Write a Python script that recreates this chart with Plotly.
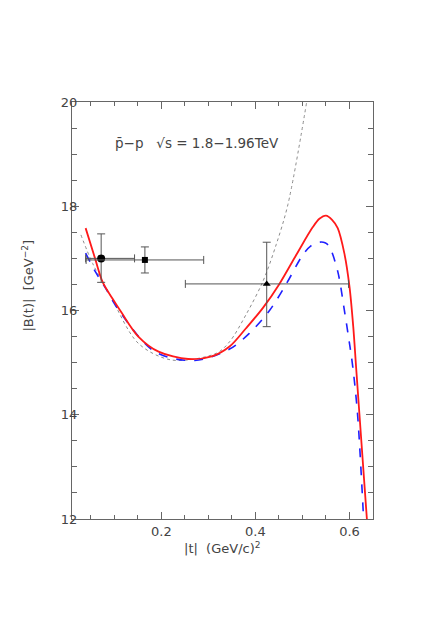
import plotly.graph_objects as go

# |t| in (GeV/c)^2, B in GeV^-2
red_t = [0.039, 0.059, 0.075, 0.096, 0.116, 0.151, 0.194, 0.257, 0.307, 0.345,
         0.380, 0.416, 0.451, 0.487, 0.522, 0.536, 0.550, 0.563, 0.575, 0.589,
         0.600, 0.608, 0.614, 0.621, 0.637]
red_b = [17.58, 17.00, 16.55, 16.23, 15.95, 15.50, 15.21, 15.07, 15.12, 15.31,
         15.66, 16.05, 16.51, 17.07, 17.60, 17.76, 17.82, 17.74, 17.58, 17.10,
         16.46, 15.69, 14.92, 14.03, 12.0]

blue_t = [0.039, 0.060, 0.082, 0.107, 0.186, 0.271, 0.345, 0.387, 0.430, 0.465,
          0.501, 0.518, 0.536, 0.548, 0.557, 0.575, 0.589, 0.600, 0.607, 0.617,
          0.630]
blue_b = [17.10, 16.74, 16.42, 16.04, 15.21, 15.04, 15.26, 15.56, 16.00, 16.50,
          17.07, 17.24, 17.31, 17.30, 17.23, 16.75, 16.01, 15.37, 14.92, 14.03,
          12.0]

dot_t = [0.029, 0.054, 0.089, 0.151, 0.222, 0.317, 0.345, 0.380, 0.416, 0.444,
         0.469, 0.509]
dot_b = [17.45, 16.90, 16.33, 15.37, 15.05, 15.18, 15.40, 15.92, 16.56, 17.26,
         18.03, 20.0]

# data points: circle, square, triangle
pt_t = [0.072, 0.165, 0.424]
pt_b = [17.00, 16.97, 16.51]
pt_t_plus = [0.071, 0.125, 0.174]
pt_t_minus = [0.033, 0.125, 0.173]
pt_b_plus = [0.47, 0.25, 0.80]
pt_b_minus = [0.46, 0.25, 0.82]
pt_symbols = ["circle", "square", "triangle-up"]
pt_sizes = [8, 6, 7]

axis_col = "#666666"
text_col = "#444444"
font = dict(family="DejaVu Sans", size=13, color=text_col)

fig = go.Figure()

fig.add_trace(go.Scatter(x=dot_t, y=dot_b, mode="lines",
                         line=dict(color="#8c8c8c", width=1, dash="dot",
                                   shape="spline", smoothing=0.9)))
fig.add_trace(go.Scatter(x=blue_t, y=blue_b, mode="lines",
                         line=dict(color="#1f1fff", width=1.6, dash="dash",
                                   shape="spline", smoothing=0.9)))
fig.add_trace(go.Scatter(x=red_t, y=red_b, mode="lines",
                         line=dict(color="#ff1a1a", width=1.8,
                                   shape="spline", smoothing=0.9)))

for i in range(len(pt_t)):
    fig.add_trace(go.Scatter(
        x=[pt_t[i]], y=[pt_b[i]], mode="markers",
        marker=dict(symbol=pt_symbols[i], size=pt_sizes[i], color="black"),
        error_x=dict(type="data", symmetric=False, array=[pt_t_plus[i]],
                     arrayminus=[pt_t_minus[i]], color="#555555", thickness=1, width=4),
        error_y=dict(type="data", symmetric=False, array=[pt_b_plus[i]],
                     arrayminus=[pt_b_minus[i]], color="#555555", thickness=1, width=4),
    ))

axis_common = dict(showline=True, linecolor=axis_col, linewidth=1, mirror="ticks",
                   ticks="inside", ticklen=7, tickcolor=axis_col, showgrid=False,
                   zeroline=False, tickfont=font)

fig.update_xaxes(range=[0.01, 0.65], tick0=0, dtick=0.2, tickformat=".1f",
                 minor=dict(dtick=0.05, tick0=0, ticks="inside", ticklen=4,
                            tickcolor=axis_col, showgrid=False),
                 **axis_common)
fig.update_yaxes(range=[12, 20], tick0=12, dtick=2, ticklabelstandoff=-9,
                 minor=dict(dtick=0.5, tick0=12, ticks="inside", ticklen=5,
                            tickcolor=axis_col, showgrid=False),
                 **axis_common)

fig.add_annotation(x=0.097, y=19.22, xref="x", yref="y", xanchor="left",
                   text="p\u0304\u2212p   \u221as = 1.8\u22121.96TeV",
                   showarrow=False, font=dict(family="DejaVu Sans", size=13.5, color=text_col))
fig.add_annotation(x=0.5, y=-0.07, xref="paper", yref="paper", yanchor="middle",
                   text="|t|  (GeV/c)<sup>2</sup>", showarrow=False, font=font)
fig.add_annotation(x=-0.146, y=0.56, xref="paper", yref="paper", xanchor="center",
                   textangle=-90, text="|B(t)|  [GeV<sup>\u22122</sup>]",
                   showarrow=False, font=font)

# page body adds an 8px margin, so the figure is a bit smaller than the window
fig.update_layout(width=428, height=616, showlegend=False,
                  plot_bgcolor="white", paper_bgcolor="white",
                  margin=dict(l=64, r=63, t=94, b=105))

fig.write_html("out.html")
